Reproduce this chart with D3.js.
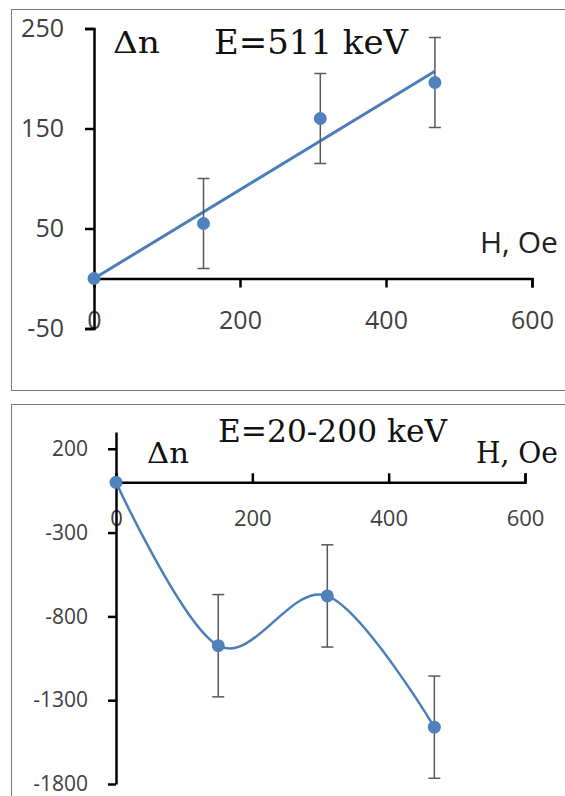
<!DOCTYPE html>
<html>
<head>
<meta charset="utf-8">
<script src="https://cdn.jsdelivr.net/npm/d3@7"></script>
<style>
  html, body { margin: 0; padding: 0; background: #fff; }
  svg { display: block; }
  .tick text { font-family: "Open Sans", sans-serif; fill: #404040; }
  .domain, .tick line { stroke: #000; stroke-width: 2.5; }
</style>
</head>
<body>
<svg id="chart" width="565" height="796"></svg>
<script>
// 磁場 H (Oe)
const fieldH = [0, 150, 310, 467]

// 上段: E=511 keV
const dn511 = [0, 55, 160, 196]
const err511 = [0, 45, 45, 45]
const yTicks511 = [-50, 50, 150, 250]

// 下段: E=20-200 keV
const dnLow = [0, -975, -678, -1461]
const errLow = [0, 305, 305, 305]
const yTicksLow = [-1800, -1300, -800, -300, 200]

const xTicks = [0, 200, 400, 600]

const blue = '#4f81bd'
const barColor = '#595959'

// Excel風の目盛ラベル（ASCIIのマイナス、桁区切りなし）
const plain = (d) => String(d)

const svg = d3.select('#chart')

// 外枠（右側は画像外まで続く）
svg.append('rect')
  .attr('x', 11.5).attr('y', 9.5)
  .attr('width', 600).attr('height', 381)
  .attr('fill', 'none').attr('stroke', '#7a7a7a')
svg.append('rect')
  .attr('x', 11.5).attr('y', 404.5)
  .attr('width', 600).attr('height', 500)
  .attr('fill', 'none').attr('stroke', '#7a7a7a')

function drawErrorBars(g, x, y, xs, ys, errs) {
  const bars = g.append('g').attr('class', 'errbars')
  xs.forEach((h, i) => {
    if (!errs[i]) return
    const cx = x(h)
    const y1 = y(ys[i] + errs[i])
    const y2 = y(ys[i] - errs[i])
    bars.append('line')
      .attr('x1', cx).attr('x2', cx).attr('y1', y1).attr('y2', y2)
    bars.append('line')
      .attr('x1', cx - 6).attr('x2', cx + 6).attr('y1', y1).attr('y2', y1)
    bars.append('line')
      .attr('x1', cx - 6).attr('x2', cx + 6).attr('y1', y2).attr('y2', y2)
  })
  bars.selectAll('line')
    .attr('stroke', barColor)
    .attr('stroke-width', 1.5)
}

function drawMarkers(g, x, y, xs, ys) {
  g.append('g').selectAll('circle')
    .data(xs)
    .enter()
    .append('circle')
    .attr('cx', (d) => x(d))
    .attr('cy', (d, i) => y(ys[i]))
    .attr('r', 6.5)
    .attr('fill', blue)
}

// ---------- 上段 ----------
{
  const g = svg.append('g')
  const x = d3.scaleLinear().domain([0, 600]).range([94, 532])
  const y = d3.scaleLinear().domain([-50, 250]).range([328.5, 28.5])

  g.append('g')
    .attr('transform', `translate(0,${y(0)})`)
    .call(d3.axisBottom(x).tickValues(xTicks).tickFormat(plain).tickSize(9).tickPadding(24))
    .call((a) => a.selectAll('text').style('font-size', '25px'))

  g.append('g')
    .attr('transform', `translate(${x(0)},0)`)
    .call(d3.axisLeft(y).tickValues(yTicks511).tickFormat(plain).tickSize(9).tickPadding(21))
    .call((a) => a.selectAll('text').style('font-size', '25px'))

  // 原点を通る線形近似
  const sxy = d3.sum(fieldH, (h, i) => h * dn511[i])
  const sxx = d3.sum(fieldH, (h) => h * h)
  const slope = sxy / sxx
  const hMax = d3.max(fieldH)
  g.append('path')
    .attr('d', d3.line()([[x(0), y(0)], [x(hMax), y(slope * hMax)]]))
    .attr('fill', 'none')
    .attr('stroke', '#4a7ebb')
    .attr('stroke-width', 3)

  drawErrorBars(g, x, y, fieldH, dn511, err511)
  drawMarkers(g, x, y, fieldH, dn511)

  g.append('text')
    .attr('x', 113).attr('y', 53)
    .attr('textLength', 47).attr('lengthAdjust', 'spacingAndGlyphs')
    .style('font', '29px "DejaVu Serif"').attr('fill', '#111')
    .text('Δn')
  g.append('text')
    .attr('x', 214).attr('y', 54)
    .attr('textLength', 194).attr('lengthAdjust', 'spacingAndGlyphs')
    .style('font', '33px "DejaVu Serif"').attr('fill', '#111')
    .text('E=511 keV')
  g.append('text')
    .attr('x', 480).attr('y', 253)
    .style('font', '30px "Open Sans"').attr('fill', '#222')
    .text('H, Oe')
}

// ---------- 下段 ----------
{
  const g = svg.append('g')
  const x = d3.scaleLinear().domain([0, 600]).range([116, 525])
  const y = d3.scaleLinear().domain([-1800, 300]).range([784, 432])

  g.append('g')
    .attr('transform', `translate(0,${y(0)})`)
    .call(d3.axisBottom(x).tickValues(xTicks).tickFormat(plain).tickSize(-9).tickPadding(28))
    .call((a) => a.selectAll('text').style('font-size', '22px'))

  g.append('g')
    .attr('transform', `translate(${x(0)},0)`)
    .call(d3.axisLeft(y).tickValues(yTicksLow).tickFormat(plain).tickSize(8).tickSizeOuter(0).tickPadding(20))
    .call((a) => a.selectAll('text').style('font-size', '21px'))

  // 平滑化した折れ線
  g.append('path')
    .datum(fieldH)
    .attr('d', d3.line()
      .x((d) => x(d))
      .y((d, i) => y(dnLow[i]))
      .curve(d3.curveCardinal.tension(0)))
    .attr('fill', 'none')
    .attr('stroke', '#4a7ebb')
    .attr('stroke-width', 2.5)

  drawErrorBars(g, x, y, fieldH, dnLow, errLow)
  drawMarkers(g, x, y, fieldH, dnLow)

  g.append('text')
    .attr('x', 147).attr('y', 463)
    .attr('textLength', 42).attr('lengthAdjust', 'spacingAndGlyphs')
    .style('font', '28px "DejaVu Serif"').attr('fill', '#111')
    .text('Δn')
  g.append('text')
    .attr('x', 218).attr('y', 442)
    .attr('textLength', 229).attr('lengthAdjust', 'spacingAndGlyphs')
    .style('font', '31px "DejaVu Serif"').attr('fill', '#111')
    .text('E=20-200 keV')
  g.append('text')
    .attr('x', 476).attr('y', 463)
    .attr('textLength', 82).attr('lengthAdjust', 'spacingAndGlyphs')
    .style('font', '30px "DejaVu Serif"').attr('fill', '#111')
    .text('H, Oe')
}
</script>
</body>
</html>
